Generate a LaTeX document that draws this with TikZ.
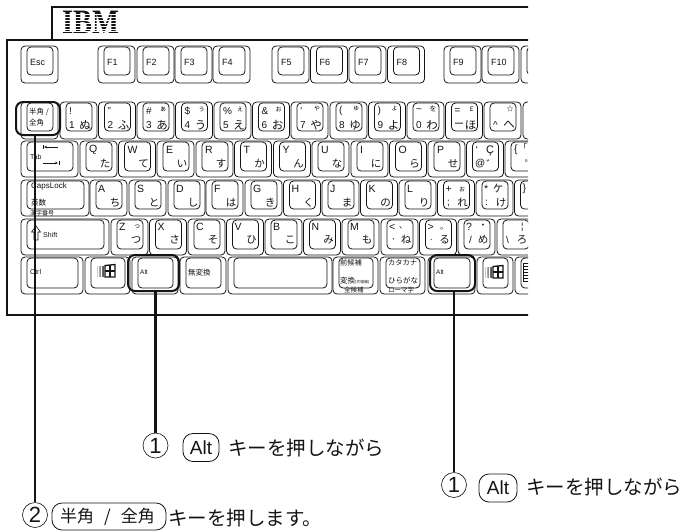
\documentclass[tikz,border=0pt]{standalone}
\usepackage{fontspec}
\usetikzlibrary{arrows.meta}
\setmainfont{Liberation Sans}
\newfontfamily\jp{Noto Sans CJK JP}
\newfontfamily\ibmfont{Liberation Serif}
\newcounter{lg}
\definecolor{ink}{gray}{0.08}
\tikzset{
  capline/.style={draw=ink,line width=0.8pt,rounded corners=4pt,fill=white},
  lab/.style={inner sep=0pt,text=ink,font=\fontsize{#1}{#1}\selectfont},
  lab/.default=10,
  jl/.style={inner sep=0pt,text=ink,font=\jp\fontsize{#1}{#1}\selectfont},
  jl/.default=11,
  hilite/.style={draw=ink,line width=2pt,rounded corners=7pt,inner sep=0pt},
  leader/.style={draw=ink,line width=2.3pt},
  frameline/.style={draw=ink,line width=1.4pt},
  numcirc/.style={circle,draw=ink,line width=0.6pt,minimum size=25pt,inner sep=0pt,text=ink,font=\fontsize{22}{22}\selectfont},
  pill/.style={draw=ink,line width=0.8pt,rounded corners=10pt,inner sep=0pt,text=ink},
  body/.style={inner sep=0pt,anchor=west,text=ink,font=\jp\fontsize{19.5}{20}\selectfont},
}
% generic legend helpers (x,y,text)
\newcommand{\Lt}[4][10]{\stepcounter{lg}\node[lab=#1,anchor=west] (t\thelg) at (#2,#3) {#4};}
\newcommand{\Jt}[4][11]{\stepcounter{lg}\node[jl=#1,anchor=west] (t\thelg) at (#2,#3) {#4};}
\newcommand{\Jc}[4][11]{\stepcounter{lg}\node[jl=#1] (t\thelg) at (#2,#3) {#4};}
% key cap: x1 x2 y1 y2 inner-bottom legends
\newcommand{\keycap}[6]{%
  \draw[capline] (#1,#3) rectangle (#2,#4);
  \draw[capline] ({#1+6},{#3+1}) rectangle ({#2-5},#5);
  #6}
% function key
\newcommand{\fk}[2]{\keycap{#1}{#1+37}{46}{83}{75}{\Lt[9]{#1+9}{62}{#2}}}
% number row: x, topleft, topright, botleft, botright
\newcommand{\nk}[5]{\keycap{#1}{#1+37}{102}{139}{131}{%
  \Lt[10]{#1+9}{111}{#2}\Jc[7]{#1+26}{109}{#3}\Lt[10]{#1+9}{125}{#4}\Jc[11.5]{#1+25}{125}{#5}}}
% tab row
\newcommand{\qk}[3]{\keycap{#1}{#1+37}{141}{177}{171}{\Lt[10.5]{#1+9}{150}{#2}\Jc[10.5]{#1+25}{164}{#3}}}
% caps row
\newcommand{\ak}[3]{\keycap{#1}{#1+37}{180}{216}{209}{\Lt[10.5]{#1+8}{189}{#2}\Jc[10.5]{#1+25}{203}{#3}}}
% shift row
\newcommand{\zk}[3]{\keycap{#1}{#1+37}{219}{255}{249}{\Lt[10.5]{#1+8}{227}{#2}\Jc[10.5]{#1+25}{240}{#3}}}
% windows logo centred on x,y
\newcommand{\winlogo}[2]{%
  \begin{scope}[shift={(#1,#2)}]
    \foreach \i/\g in {0/20,1/32,2/44,3/56,4/68}{
      \fill[black!\g] ({-9+1.5*\i},-5) rectangle ({-8+1.5*\i},6);
    }
    \draw[ink,line width=1.3pt,fill=white] (-1,-5.5) -- (9,-6.5) -- (9,6) -- (-1,6) -- cycle;
    \draw[ink,line width=1.3pt] (4,-6) -- (4,6) (-1,0) -- (9,0);
  \end{scope}}
\begin{document}
\begin{tikzpicture}[x=1pt,y=-1pt]
\useasboundingbox (0,0) rectangle (683,531);
\begin{scope}
\clip (0,0) rectangle (528,531);
% case
\draw[frameline] (52,40) -- (52,7) -- (540,7);
\draw[frameline] (540,40) -- (7,40) -- (7,315) -- (540,315);
% IBM logo
\node[inner sep=0pt,text=ink,font=\ibmfont\bfseries\fontsize{28.5}{28.5}\selectfont] (ibm) at (90.5,22.5) {\scalebox{1}[1.2]{IBM}};
\foreach \y in {13.6,16.6,19.6,22.6,25.6,28.6,31.2}{\fill[white] (58,\y) rectangle (124,{\y+1.1});}
% function row
\fk{21}{Esc}\fk{98}{F1}\fk{137}{F2}\fk{175}{F3}\fk{213}{F4}
\fk{272}{F5}\fk{310.5}{F6}\fk{349}{F7}\fk{387.5}{F8}
\fk{444}{F9}\fk{482}{F10}\keycap{521}{558}{46}{83}{75}{}
% number row
\keycap{21}{58}{102}{139}{131}{\Jt[7.5]{29}{112}{半角 /}\Jt[7.5]{29}{123}{全角}}
\nk{60}{!}{}{1}{ぬ}\nk{98.5}{"}{}{2}{ふ}\nk{137}{\#}{ぁ}{3}{あ}\nk{175.5}{\$}{ぅ}{4}{う}\nk{214}{\%}{ぇ}{5}{え}
\nk{252.5}{\&}{ぉ}{6}{お}\nk{291}{'}{ゃ}{7}{や}\nk{330}{(}{ゅ}{8}{ゆ}\nk{368.5}{)}{ょ}{9}{よ}\nk{407}{\textasciitilde}{を}{0}{わ}
\nk{445.5}{=}{£}{}{ほ}\Jt[10]{454}{125}{ー}\nk{484}{}{☆}{\textasciicircum}{へ}\keycap{523}{560}{102}{139}{131}{}
% tab row
\keycap{21}{78}{141}{177}{171}{\Lt[7]{30}{157}{Tab}}
\draw[ink,line width=0.6pt,-{Stealth[length=3pt,width=2.5pt]}] (58,147) -- (44,147);
\draw[ink,line width=0.8pt] (43,145) -- (43,149);
\draw[ink,line width=0.6pt,-{Stealth[length=3pt,width=2.5pt]}] (43,163) -- (58,163);
\draw[ink,line width=0.8pt] (59,161) -- (59,165);
\qk{80}{Q}{た}\qk{118.5}{W}{て}\qk{157}{E}{い}\qk{196}{R}{す}\qk{234.5}{T}{か}\qk{273.5}{Y}{ん}\qk{312}{U}{な}\qk{351}{I}{に}\qk{389.5}{O}{ら}
\qk{428}{P}{せ}\qk{466.5}{`}{゛}\qk{505}{\{}{゜}
\Lt[11]{486}{151}{Ç}\Lt[10]{475}{164}{@}\Jc[8]{523}{147}{「}
% caps row
\keycap{21}{89}{180}{216}{209}{\Lt[8]{31}{186}{CapsLock}\Jt[7.5]{31}{203}{英数}\Jt[6]{30}{213.5}{漢字番号}}
\ak{90}{A}{ち}\ak{129}{S}{と}\ak{168}{D}{し}\ak{206}{F}{は}\ak{245}{G}{き}\ak{283.5}{H}{く}\ak{322}{J}{ま}\ak{360.5}{K}{の}\ak{399}{L}{り}
\ak{437.5}{+}{れ}\ak{476}{*}{け}\ak{514.5}{\}}{}
\Jc[7]{462}{189}{ぉ}\Lt[10]{447}{203}{;}\Jc[10.5]{498}{189}{ケ}\Lt[10]{485}{203}{:}
% shift row
\keycap{21}{109}{219}{255}{249}{\Lt[7]{43}{235}{Shift}}
\draw[ink,line width=0.6pt,fill=white] (34,240) -- (34,232) -- (31.5,232) -- (36,226) -- (40.5,232) -- (38,232) -- (38,240) -- cycle;
\zk{111}{Z}{つ}\Jc[7]{137}{227}{っ}
\zk{149.5}{X}{さ}\zk{188}{C}{そ}\zk{226.5}{V}{ひ}\zk{265}{B}{こ}\zk{303.5}{N}{み}\zk{342}{M}{も}
\zk{381}{<}{ね}\Jc[8]{403}{228}{、}\Lt[9]{392}{240}{,}
\zk{419.5}{>}{る}\Jc[8]{444}{229}{。}\Lt[9]{430}{240}{.}
\zk{458}{?}{め}\Jc[9]{483}{226}{・}\Lt[10]{469}{240}{/}
\zk{497}{}{ろ}\Lt[10]{506}{240}{\textbackslash}\Lt[9]{521}{227}{¦}
% bottom row
\keycap{21}{83}{257}{294}{288}{\Lt[7]{30}{272}{Ctrl}}
\keycap{85}{130}{257}{294}{288}{\winlogo{106}{271}}
\keycap{132}{178}{257}{294}{288}{\Lt[6.5]{140}{272}{Alt}}
\keycap{180}{226}{257}{294}{288}{\Jt[7.5]{188}{273}{無変換}}
\keycap{228}{332}{257}{294}{288}{}
\keycap{333}{378}{257}{294}{288}{\Jt[7.2]{340}{263}{前候補}\Jt[7.5]{340}{281}{変換}\Jt[3.8]{355}{282}{(次候補)}\Jt[6.5]{344}{290.5}{全候補}}
\keycap{380}{425}{257}{294}{288}{\Jt[7.2]{388}{263}{カタカナ}\Jt[7.5]{388}{281}{ひらがな}\Jt[6.5]{388}{290.5}{ローマ字}}
\keycap{428}{475}{257}{294}{288}{\Lt[6.5]{436}{272}{Alt}}
\keycap{477}{513}{257}{294}{288}{\winlogo{494}{272}}
\keycap{515}{552}{257}{294}{288}{}
\draw[ink,line width=0.8pt,fill=white] (523,263) rectangle (532,281);
\foreach \y in {266,269,272,275,278}{\draw[ink,line width=1pt] (523,\y) -- (532,\y);}
\end{scope}
% highlights
\node[hilite,minimum width=44pt,minimum height=33pt] (hlzen) at (38,118.5) {};
\node[hilite,minimum width=51pt,minimum height=36pt] (hlalta) at (153.5,273) {};
\node[hilite,minimum width=45pt,minimum height=36pt] (hlaltb) at (452.5,273) {};
% captions
\node[numcirc] (numa) at (155.5,445.5) {1};
\node[pill,minimum width=36pt,minimum height=28pt,font=\fontsize{19}{19}\selectfont] (pilla) at (201,447.5) {Alt};
\node[body] (texta) at (228,448) {キーを押しながら};
\node[numcirc] (numb) at (454,485) {1};
\node[pill,minimum width=38pt,minimum height=28pt,font=\fontsize{19}{19}\selectfont] (pillb) at (498,488) {Alt};
\node[body] (textb) at (526,487.5) {キーを押しながら};
\node[numcirc] (numc) at (35,515) {2};
\node[pill,minimum width=114pt,minimum height=27pt,font=\jp\fontsize{17}{17}\selectfont] (pillc) at (109,516.5) {\hspace{-3pt}半角\hspace{10pt}/\hspace{10pt}全角\hspace{3pt}};
\node[body] (textc) at (168,518) {キーを押します。};
% leaders
\draw[leader] (numa.north |- hlalta.south) -- (numa.north);
\draw[leader] (numb.north |- hlaltb.south) -- (numb.north);
\draw[leader] (numc.north |- hlzen.south) -- (numc.north);
\end{tikzpicture}
\end{document}
